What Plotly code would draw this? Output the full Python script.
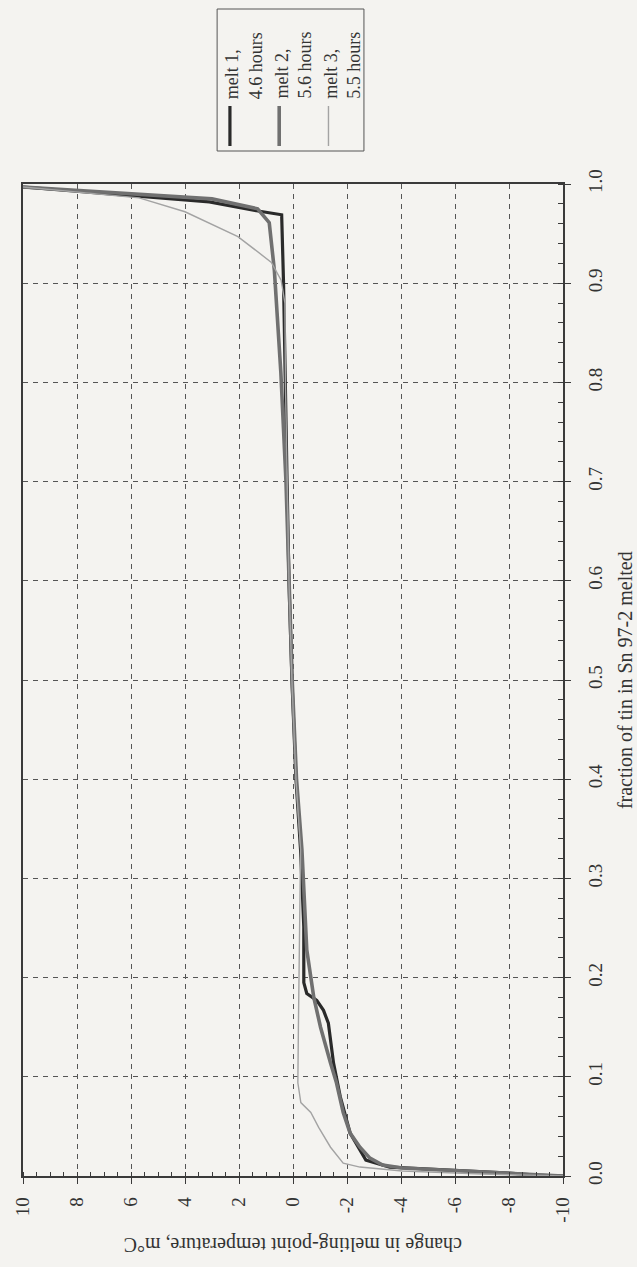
import plotly.graph_objects as go

# ---- data (fraction melted, change in melting-point temperature in mK) ----
melt1_frac = [0.0, 0.001, 0.003, 0.008, 0.009, 0.016, 0.043, 0.080, 0.114, 0.154, 0.167, 0.177,
              0.184, 0.195, 0.251, 0.329, 0.40, 0.50, 0.60, 0.70, 0.83, 0.90, 0.969, 0.973,
              0.982, 0.997]
melt1_temp = [-10.0, -9.0, -8.0, -4.05, -3.58, -2.70, -2.12, -1.75, -1.50, -1.31, -1.13, -0.88,
              -0.51, -0.40, -0.40, -0.28, -0.11, 0.04, 0.15, 0.22, 0.29, 0.35, 0.42, 1.35,
              3.1, 10.0]

melt2_frac = [0.0, 0.003, 0.008, 0.011, 0.018, 0.029, 0.043, 0.064, 0.094, 0.114, 0.150, 0.180,
              0.228, 0.329, 0.40, 0.50, 0.60, 0.70, 0.81, 0.913, 0.961, 0.975, 0.985, 0.991, 0.997]
melt2_temp = [-10.0, -7.5, -4.05, -3.32, -2.85, -2.48, -2.12, -1.86, -1.61, -1.39, -1.02, -0.77,
              -0.51, -0.33, -0.13, 0.03, 0.16, 0.26, 0.45, 0.69, 0.88, 1.31, 3.0, 6.3, 10.0]

melt3_frac = [0.0, 0.002, 0.005, 0.009, 0.013, 0.029, 0.049, 0.064, 0.074, 0.094, 0.15, 0.20,
              0.25, 0.329, 0.40, 0.50, 0.60, 0.70, 0.80, 0.88, 0.903, 0.921, 0.947, 0.972,
              0.986, 0.997]
melt3_temp = [-10.0, -7.0, -4.05, -2.48, -1.86, -1.39, -0.95, -0.66, -0.29, -0.18, -0.20, -0.22,
              -0.26, -0.28, -0.11, 0.04, 0.15, 0.22, 0.28, 0.30, 0.44, 0.8, 2.04, 4.0,
              5.7, 10.0]

series_names = ["melt 1,<br>4.6 hours", "melt 2,<br>5.6 hours", "melt 3,<br>5.5 hours"]
series_colors = ["#2a2a2a", "#707070", "#a3a3a3"]
series_widths = [3.2, 3.6, 1.4]

temp_ticks = [10, 8, 6, 4, 2, 0, -2, -4, -6, -8, -10]
frac_ticks = [0.0, 0.1, 0.2, 0.3, 0.4, 0.5, 0.6, 0.7, 0.8, 0.9, 1.0]

x_title = "change in melting-point temperature, m°C"
y_title = "fraction of tin in Sn 97-2 melted"

# ---- layout geometry (pixels) ----
W, H = 637, 1267
L, R, T, B = 15, 74, 184, 91
PW, PH = W - L - R, H - T - B


def px_x(p):
    return (p - L) / PW


def px_y(p):
    return (H - B - p) / PH


FONT = "Liberation Serif"
TXT = "#333333"
BG = "#f4f3f0"

fig = go.Figure()
data = [(melt1_temp, melt1_frac), (melt2_temp, melt2_frac), (melt3_temp, melt3_frac)]
for (t, f), name, c, w in zip(data, series_names, series_colors, series_widths):
    fig.add_trace(go.Scatter(x=t, y=f, mode="lines", name=name,
                             line=dict(color=c, width=w), showlegend=False))

axis_common = dict(
    showline=True, mirror=True, linecolor="#3a3a3a", linewidth=1.5,
    showgrid=True, gridcolor="#555555", gridwidth=1, griddash="5px,5px",
    zeroline=False, ticks="outside", ticklen=6, tickcolor="#3a3a3a", tickwidth=1,
    tickangle=-90, tickfont=dict(family=FONT, size=19, color=TXT),
)

fig.update_layout(
    width=W, height=H,
    margin=dict(l=L, r=R, t=T, b=B),
    paper_bgcolor=BG, plot_bgcolor=BG,
    font=dict(family=FONT, color=TXT),
    xaxis=dict(range=[10, -10], tickvals=temp_ticks, ticktext=[str(v) for v in temp_ticks],
               minor=dict(dtick=0.5, ticks="inside", ticklen=4, tickcolor="#3a3a3a",
                          showgrid=False),
               ticklabelstandoff=6, **axis_common),
    yaxis=dict(range=[0, 1], side="right", tickvals=frac_ticks,
               ticktext=[f"{v:.1f}" for v in frac_ticks],
               minor=dict(dtick=0.02, ticks="inside", ticklen=5, tickcolor="#3a3a3a",
                          showgrid=False),
               ticklabelstandoff=8, **axis_common),
    showlegend=False,
)

# axis titles (rotated page)
fig.add_annotation(text=x_title, xref="paper", yref="paper", x=0.5, y=px_y(1245),
                   showarrow=False, textangle=180, xanchor="center", yanchor="middle",
                   font=dict(family=FONT, size=20, color=TXT))
fig.add_annotation(text=y_title, xref="paper", yref="paper", x=px_x(626), y=0.5,
                   showarrow=False, textangle=-90, xanchor="center", yanchor="middle",
                   font=dict(family=FONT, size=20, color=TXT))

# legend (rotated), drawn by hand
fig.add_shape(type="rect", xref="paper", yref="paper",
              x0=px_x(212), x1=px_x(361), y0=px_y(151), y1=px_y(9),
              line=dict(color="#555555", width=1), fillcolor=BG)
leg_x = [225, 275, 325]
for lx, name, c, w in zip(leg_x, series_names, series_colors, series_widths):
    fig.add_shape(type="line", xref="paper", yref="paper",
                  x0=px_x(lx), x1=px_x(lx), y0=px_y(146), y1=px_y(106),
                  line=dict(color=c, width=w))
    fig.add_annotation(text=name, xref="paper", yref="paper", x=px_x(lx + 14), y=px_y(101),
                       showarrow=False, textangle=-90, xanchor="center", yanchor="bottom",
                       align="left", font=dict(family=FONT, size=18, color=TXT))

fig.write_html("out.html")
